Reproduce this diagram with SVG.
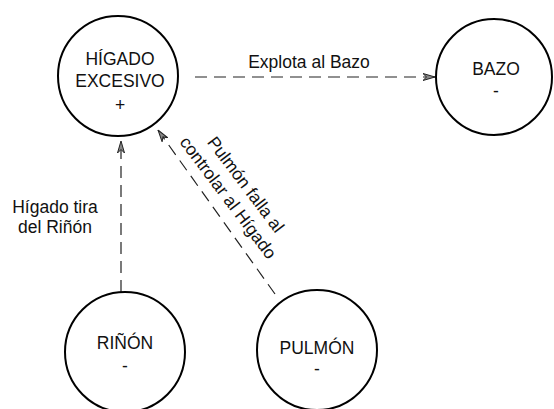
<svg xmlns="http://www.w3.org/2000/svg" width="554" height="409" viewBox="0 0 554 409">
<style>
.node{fill:#fff;stroke:#000;stroke-width:2}
text{font-family:"Liberation Sans",Arial,sans-serif;font-size:17.5px;fill:#111}
.c{text-anchor:middle}
.edge{fill:none;stroke:#222;stroke-width:1.2;stroke-dasharray:12 7}
</style>
<defs>
<marker id="arr" viewBox="0 0 12 8" refX="12" refY="4" markerWidth="12" markerHeight="8" markerUnits="userSpaceOnUse" orient="auto">
<path d="M0,0.5 L12,4 L0,7.5 L3.5,4 z" fill="#888" stroke="#222" stroke-width="1"/>
</marker>
</defs>
<rect width="554" height="409" fill="#fff"/>
<g id="connectors">
<path class="edge" d="M195,77 L435,77" marker-end="url(#arr)"/>
<path class="edge" d="M121,292 L121,141" marker-end="url(#arr)"/>
<path class="edge" d="M275,294 L158,130" marker-end="url(#arr)"/>
<text class="c" x="309" y="68">Explota al Bazo</text>
<text class="c" x="55" y="213">Hígado tira</text>
<text class="c" x="55" y="233">del Riñón</text>
<text class="c" transform="translate(241,188) rotate(53)"><tspan x="0" y="0">Pulmón falla al</tspan><tspan x="0" y="22">controlar al Hígado</tspan></text>
</g>
<g id="higado">
<circle class="node" cx="118" cy="76" r="60"/>
<text class="c" x="120" y="65">HÍGADO</text>
<text class="c" x="120" y="87">EXCESIVO</text>
<text class="c" x="120" y="111">+</text>
</g>
<g id="bazo">
<circle class="node" cx="494" cy="77" r="58"/>
<text class="c" x="496" y="75">BAZO</text>
<text class="c" x="496" y="97">-</text>
</g>
<g id="rinon">
<circle class="node" cx="125" cy="352" r="60"/>
<text class="c" x="125" y="349">RIÑÓN</text>
<text class="c" x="125" y="372">-</text>
</g>
<g id="pulmon">
<circle class="node" cx="317" cy="350" r="60"/>
<text class="c" x="317" y="354">PULMÓN</text>
<text class="c" x="317" y="375">-</text>
</g>
</svg>
